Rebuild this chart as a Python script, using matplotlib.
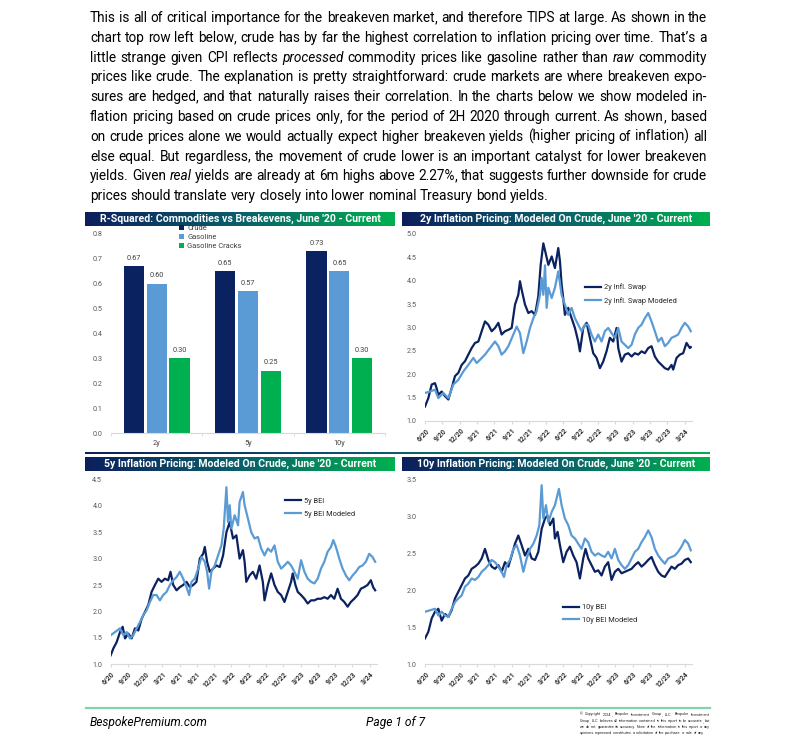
import numpy as np
import matplotlib
matplotlib.use('Agg')
import matplotlib.pyplot as plt
from matplotlib.colors import LinearSegmentedColormap
from matplotlib.ticker import FixedLocator

W, H = 812, 742
plt.rcParams['font.family'] = ['Roboto', 'DejaVu Sans']

NAVY = '#0b2260'
LIGHT = '#5b9bd5'
GREEN = '#00b050'
GRAD = LinearSegmentedColormap.from_list('bar', ['#0c1f5c', '#0a5f6a', '#00b050'])

# ---- text ----
PARA = [
    "This is all of critical importance for the breakeven market, and therefore TIPS at large. As shown in the",
    "chart top row left below, crude has by far the highest correlation to inflation pricing over time. That\u2019s a",
    "little strange given CPI reflects *processed* commodity prices like gasoline rather than *raw* commodity",
    "prices like crude. The explanation is pretty straightforward: crude markets are where breakeven expo-",
    "sures are hedged, and that naturally raises their correlation. In the charts below we show modeled in-",
    "flation pricing based on crude prices only, for the period of 2H 2020 through current. As shown, based",
    "on crude prices alone we would actually expect higher breakeven yields (higher pricing of inflation) all",
    "else equal. But regardless, the movement of crude lower is an important catalyst for lower breakeven",
    "yields. Given *real* yields are already at 6m highs above 2.27%, that suggests further downside for crude",
    "prices should translate very closely into lower nominal Treasury bond yields.",
]
COPYRIGHT = [
    "\u00a9 Copyright 2024, Bespoke Investment Group, LLC. Bespoke Investment",
    "Group, LLC believes all information contained in this report to be accurate, but",
    "we do not guarantee its accuracy. None of the information in this report or any",
    "opinions expressed constitutes a solicitation of the purchase or sale of any",
]

# ---- bar chart data (R-squared) ----
bar_cats = ['2y', '5y', '10y']
crude_r2 = [0.67, 0.65, 0.73]
gasoline_r2 = [0.60, 0.57, 0.65]
cracks_r2 = [0.30, 0.25, 0.30]

# ---- line charts: months since June 2020 ----
date_ticks = [0, 3, 6, 9, 12, 15, 18, 21, 24, 27, 30, 33, 36, 39, 42, 45]
date_labels = ['6/20', '9/20', '12/20', '3/21', '6/21', '9/21', '12/21', '3/22',
               '6/22', '9/22', '12/22', '3/23', '6/23', '9/23', '12/23', '3/24']

swap2_m = [0, 0.58, 1.16, 1.73, 2.02, 2.31, 2.89, 3.47, 4.05, 4.62, 5.2, 5.78, 6.36, 6.94, 7.51,
           8.09, 8.67, 9.25, 9.83, 10.4, 10.98, 11.56, 12.14, 12.72, 13.29, 13.87, 14.45, 15.03,
           15.61, 16.18, 16.47, 16.76, 17.34, 17.92, 18.5, 19.08, 19.65, 20.06, 20.52, 20.98,
           21.39, 21.97, 22.53, 23.11, 23.4, 23.69, 23.97, 24.26, 24.84, 25.42, 26.0, 26.57,
           26.86, 27.44, 28.02, 28.59, 29.17, 29.75, 30.33, 30.9, 31.48, 32.06, 32.64, 33.22,
           33.51, 34.08, 34.66, 35.24, 35.82, 36.39, 36.97, 37.55, 38.13, 38.71, 39.28, 39.86,
           40.44, 41.02, 41.59, 42.17, 42.75, 43.04, 43.62, 44.19, 44.77, 45.35, 45.93, 46.1]
swap2_v = [1.31, 1.49, 1.78, 1.81, 1.70, 1.56, 1.63, 1.53, 1.46, 1.70, 1.96, 2.03, 2.20, 2.28, 2.42,
           2.56, 2.67, 2.70, 2.92, 3.13, 3.06, 2.92, 2.99, 3.10, 2.85, 2.92, 2.95, 2.99,
           3.49, 3.70, 3.99, 3.81, 3.49, 3.31, 3.35, 3.27, 3.67, 4.34, 4.80, 4.56,
           4.34, 4.52, 4.27, 4.70, 4.42, 3.92, 3.63, 3.27, 3.42, 3.20, 2.99, 2.70,
           2.49, 2.99, 3.10, 2.78, 2.45, 2.35, 2.13, 2.27, 2.49, 2.78, 2.70, 2.99,
           2.56, 2.27, 2.42, 2.45, 2.38, 2.45, 2.42, 2.49, 2.45, 2.56, 2.60, 2.38,
           2.27, 2.20, 2.13, 2.10, 2.20, 2.10, 2.35, 2.42, 2.45, 2.67, 2.56, 2.58]

swap2_mod_m = [0, 0.87, 1.73, 2.31, 3.18, 4.05, 4.91, 5.78, 6.65, 7.51, 8.38, 8.96, 9.54, 10.4,
               11.27, 12.14, 12.72, 13.29, 13.87, 14.45, 15.32, 15.9, 16.47, 17.05, 17.63, 18.21,
               18.79, 19.36, 19.94, 20.23, 20.52, 20.81, 21.1, 21.39, 21.97, 22.53, 23.11, 23.69,
               24.26, 24.84, 25.42, 26.0, 26.57, 27.15, 27.73, 28.3, 28.88, 29.46, 30.04, 30.62,
               31.19, 31.77, 32.35, 32.93, 33.51, 34.08, 34.66, 35.24, 35.82, 36.39, 36.97, 37.55,
               38.13, 38.71, 39.28, 39.86, 40.44, 41.02, 41.59, 42.17, 42.75, 43.33, 43.9, 44.48,
               45.06, 45.64, 46.1]
swap2_mod_v = [1.60, 1.63, 1.67, 1.49, 1.60, 1.49, 1.78, 1.88, 2.06, 2.20, 2.35, 2.24, 2.31, 2.42,
               2.56, 2.70, 2.60, 2.42, 2.49, 2.60, 2.85, 3.02, 2.88, 2.45, 2.70, 2.99,
               3.20, 3.35, 3.70, 4.06, 3.70, 4.33, 3.42, 3.85, 3.63, 3.85, 4.20, 3.70,
               3.49, 3.27, 3.42, 3.20, 3.06, 2.92, 3.06, 3.06, 2.85, 2.70, 2.85, 2.70,
               2.92, 2.99, 2.88, 2.78, 2.99, 2.70, 2.63, 2.56, 2.63, 2.85, 2.99, 3.06,
               3.20, 3.31, 3.13, 2.92, 2.70, 2.78, 2.60, 2.67, 2.78, 2.81, 2.85, 2.99,
               3.10, 3.02, 2.92]

bei5_m = [0, 0.46, 1.04, 1.62, 2.08, 2.49, 3.06, 3.64, 4.22, 4.8, 5.38, 5.95, 6.53, 7.11, 7.69,
          8.27, 8.84, 9.42, 10.0, 10.4, 10.87, 11.45, 12.02, 12.6, 13.18, 13.76, 14.34, 14.91,
          15.49, 16.07, 16.36, 16.76, 17.23, 17.8, 18.38, 18.96, 19.54, 20.12, 20.69, 21.27,
          21.85, 22.41, 22.99, 23.28, 23.57, 24.14, 24.72, 25.3, 25.88, 26.45, 26.74, 27.32,
          27.9, 28.48, 29.05, 29.63, 30.21, 30.79, 31.36, 31.65, 32.12, 32.52, 33.1, 33.68,
          34.25, 34.83, 35.41, 35.99, 36.56, 37.14, 37.72, 38.3, 38.87, 39.45, 40.03, 40.61,
          41.19, 41.76, 42.34, 42.92, 43.5, 44.07, 44.65, 45.23, 45.63, 45.98]
bei5_v = [1.17, 1.30, 1.42, 1.61, 1.71, 1.49, 1.58, 1.49, 1.68, 1.64, 1.86, 1.99, 2.12, 2.37, 2.50,
          2.62, 2.56, 2.62, 2.59, 2.75, 2.50, 2.40, 2.46, 2.50, 2.56, 2.46, 2.50, 2.56,
          3.00, 3.09, 3.22, 2.94, 2.75, 2.81, 2.87, 2.84, 3.06, 3.50, 3.69, 3.38,
          3.44, 3.00, 3.16, 2.94, 2.56, 2.68, 2.75, 2.62, 2.87, 2.56, 2.21, 2.50,
          2.72, 2.50, 2.37, 2.31, 2.18, 2.37, 2.56, 2.72, 2.50, 2.37, 2.31, 2.24,
          2.15, 2.21, 2.21, 2.24, 2.24, 2.27, 2.24, 2.31, 2.24, 2.43, 2.24, 2.18,
          2.09, 2.18, 2.24, 2.31, 2.43, 2.46, 2.50, 2.59, 2.46, 2.40]

bei5_mod_m = [0, 0.75, 1.62, 2.2, 2.77, 3.35, 3.93, 4.51, 5.09, 5.66, 6.24, 6.82, 7.4, 7.98, 8.55,
              9.13, 9.71, 10.29, 10.87, 11.45, 12.02, 12.6, 13.18, 13.64, 14.05, 14.62, 15.2,
              15.78, 16.36, 16.76, 17.11, 17.51, 18.09, 18.67, 19.25, 19.65, 20.12, 20.4, 20.69,
              20.98, 21.56, 22.14, 22.41, 22.99, 23.28, 23.85, 24.43, 25.01, 25.59, 26.17, 26.74,
              27.32, 27.9, 28.48, 29.05, 29.63, 30.21, 30.79, 31.36, 31.94, 32.52, 33.1, 33.68,
              34.25, 34.83, 35.41, 35.99, 36.56, 37.14, 37.72, 38.3, 38.7, 39.16, 39.74, 40.32,
              40.9, 41.47, 42.05, 42.63, 43.21, 43.78, 44.36, 44.94, 45.52, 45.98]
bei5_mod_v = [1.55, 1.61, 1.68, 1.55, 1.61, 1.49, 1.55, 1.68, 1.80, 1.93, 2.02, 2.18, 2.31, 2.31, 2.21,
              2.31, 2.37, 2.50, 2.59, 2.65, 2.75, 2.62, 2.46, 2.31, 2.56, 2.62, 2.81,
              3.03, 2.94, 2.75, 2.43, 2.75, 2.87, 3.06, 3.25, 3.57, 4.35, 3.69, 4.01,
              3.57, 3.82, 3.63, 4.07, 4.26, 4.01, 3.76, 3.50, 3.38, 3.41, 3.19, 3.06,
              3.19, 3.13, 3.25, 2.94, 2.81, 2.87, 2.94, 2.87, 2.75, 2.62, 2.97, 2.75,
              2.62, 2.56, 2.53, 2.62, 2.81, 2.94, 3.13, 3.22, 3.35, 3.22, 3.00, 2.81,
              2.68, 2.59, 2.68, 2.75, 2.84, 2.87, 2.94, 3.09, 3.03, 2.94]

bei10_m = [0, 0.58, 1.16, 1.73, 2.31, 2.89, 3.47, 4.05, 4.62, 5.2, 5.78, 6.36, 6.94, 7.51, 8.09,
           8.67, 9.25, 9.83, 10.4, 10.98, 11.56, 12.14, 12.72, 13.29, 13.87, 14.45, 15.03, 15.61,
           16.18, 16.76, 17.34, 17.92, 18.5, 19.08, 19.65, 20.23, 20.81, 21.21, 21.68, 22.25,
           22.53, 22.99, 23.4, 23.97, 24.55, 25.13, 25.71, 26.28, 26.86, 27.44, 27.84, 28.3,
           28.88, 29.46, 30.04, 30.62, 31.19, 31.77, 32.35, 32.93, 33.51, 34.08, 34.66, 35.24,
           35.82, 36.39, 36.97, 37.55, 38.13, 38.71, 39.28, 39.86, 40.44, 41.02, 41.59, 42.17,
           42.75, 43.33, 43.9, 44.48, 45.06, 45.64, 46.1]
bei10_v = [1.35, 1.44, 1.62, 1.71, 1.75, 1.59, 1.68, 1.64, 1.73, 1.89, 1.98, 2.07, 2.16, 2.20, 2.29,
           2.32, 2.36, 2.43, 2.56, 2.41, 2.32, 2.29, 2.34, 2.25, 2.38, 2.32, 2.47, 2.63,
           2.74, 2.61, 2.47, 2.56, 2.43, 2.41, 2.52, 2.83, 2.97, 3.01, 2.88, 2.97,
           2.70, 2.79, 2.61, 2.38, 2.52, 2.59, 2.47, 2.38, 2.16, 2.43, 2.56, 2.43,
           2.34, 2.25, 2.27, 2.20, 2.32, 2.38, 2.14, 2.25, 2.29, 2.23, 2.25, 2.27,
           2.29, 2.34, 2.38, 2.32, 2.36, 2.41, 2.45, 2.34, 2.25, 2.20, 2.18, 2.25,
           2.32, 2.29, 2.34, 2.36, 2.41, 2.43, 2.38]

bei10_mod_m = [0, 0.87, 1.73, 2.31, 2.89, 3.47, 4.05, 4.62, 5.2, 5.78, 6.36, 6.94, 7.51, 8.09, 8.67,
               9.25, 9.83, 10.4, 10.98, 11.56, 12.14, 12.72, 13.29, 13.7, 14.16, 14.74, 15.32,
               15.9, 16.47, 17.05, 17.63, 18.21, 18.79, 19.36, 19.83, 20.23, 20.52, 20.98, 21.39,
               21.97, 22.53, 23.22, 23.69, 24.26, 24.84, 25.42, 26.0, 26.57, 27.15, 27.73, 28.3,
               28.88, 29.46, 30.04, 30.62, 31.19, 31.77, 32.35, 32.93, 33.51, 34.08, 34.66, 35.24,
               35.82, 36.39, 36.97, 37.55, 38.13, 38.71, 39.28, 39.86, 40.44, 41.02, 41.59, 42.17,
               42.75, 43.33, 43.9, 44.48, 45.06, 45.64, 46.1]
bei10_mod_v = [1.71, 1.73, 1.75, 1.66, 1.71, 1.66, 1.64, 1.75, 1.84, 1.89, 1.93, 2.05, 2.09, 2.16, 2.14,
               2.18, 2.25, 2.29, 2.34, 2.41, 2.38, 2.32, 2.25, 2.18, 2.34, 2.41, 2.56,
               2.61, 2.47, 2.25, 2.43, 2.56, 2.63, 2.74, 2.88, 3.42, 2.97, 3.15, 2.92,
               3.06, 3.15, 3.37, 3.15, 2.97, 2.88, 2.74, 2.70, 2.63, 2.56, 2.70, 2.65,
               2.52, 2.47, 2.50, 2.47, 2.45, 2.52, 2.43, 2.56, 2.41, 2.34, 2.29, 2.34,
               2.43, 2.52, 2.56, 2.65, 2.72, 2.81, 2.72, 2.56, 2.47, 2.41, 2.36, 2.43,
               2.45, 2.47, 2.52, 2.59, 2.68, 2.63, 2.54]

fig = plt.figure(figsize=(W / 100, H / 100), dpi=100)
renderer = fig.canvas.get_renderer()


def box(x0, y0, x1, y1):
    # pixel box (top-left origin) -> figure rect
    return [x0 / W, 1 - y1 / H, (x1 - x0) / W, (y1 - y0) / H]


def text_width(s, size, **kw):
    t = fig.text(0, 0, s, fontsize=size, **kw)
    w = t.get_window_extent(renderer).width
    t.remove()
    return w


def fit_size(s, width, **kw):
    return 10 * width / text_width(s, 10, **kw)


def justify(lines, x0, x1, base0, dy, size, color='black'):
    # draw word by word so every line but the last fills x0..x1
    space = text_width('a a', size) - text_width('aa', size)
    for i, line in enumerate(lines):
        words = []
        for wd in line.split():
            style = 'italic' if wd.startswith('*') else 'normal'
            wd = wd.strip('*')
            # trailing comma drawn as its own piece
            parts = [wd[:-1], ','] if wd.endswith(',') and len(wd) > 1 else [wd]
            widths = [text_width(p, size, fontstyle=style) for p in parts]
            words.append((parts, widths, style))
        total = sum(sum(w[1]) for w in words)
        if i < len(lines) - 1 and len(words) > 1:
            gap = (x1 - x0 - total) / (len(words) - 1)
        else:
            gap = space
        x = x0
        y = base0 + dy * i
        for parts, widths, style in words:
            for p, w in zip(parts, widths):
                fig.text(x / W, 1 - y / H, p, fontsize=size, fontstyle=style,
                         color=color, ha='left', va='baseline')
                x += w
            x += gap


def header(x0, y0, x1, y1, title, title_w):
    ax = fig.add_axes(box(x0, y0, x1, y1))
    ax.imshow(np.linspace(0, 1, 256)[None, :], aspect='auto', cmap=GRAD, extent=(0, 1, 0, 1))
    ax.set_axis_off()
    size = fit_size(title, title_w, fontweight='bold')
    ax.text(0.5, 0.48, title, color='white', fontsize=size, fontweight='bold',
            ha='center', va='center', transform=ax.transAxes)


def style_axes(ax):
    for s in ['top', 'right', 'left']:
        ax.spines[s].set_visible(False)
    ax.spines['bottom'].set_color('#d9d9d9')
    ax.spines['bottom'].set_linewidth(0.8)
    ax.tick_params(axis='y', length=0, pad=6, labelsize=5.2, labelcolor='#595959')


def line_chart(rect, m1, v1, m2, v2, ylim, yticks, names, leg_xy):
    ax = fig.add_axes(rect)
    ax.plot(m1, v1, color=NAVY, lw=1.6, label=names[0])
    ax.plot(m2, v2, color=LIGHT, lw=1.6, label=names[1])
    ax.set_xlim(0, 46.3)
    ax.set_ylim(*ylim)
    ax.set_yticks(yticks)
    ax.set_yticklabels(['%.1f' % t for t in yticks])
    ax.set_xticks(date_ticks)
    ax.set_xticklabels(date_labels, rotation=45, ha='right', rotation_mode='anchor')
    style_axes(ax)
    ax.tick_params(axis='x', length=2.5, color='#d9d9d9', pad=1.5, labelsize=5,
                   labelcolor='#333333')
    for lab in ax.get_xticklabels():
        lab.set_fontweight('bold')
    ax.legend(loc='upper left', bbox_to_anchor=leg_xy, frameon=False, fontsize=5.3,
              handlelength=2.2, handletextpad=0.35, labelspacing=0.75, borderpad=0,
              borderaxespad=0, labelcolor='#262626')
    return ax


# ---- paragraph ----
p_fits = sorted(fit_size(s.replace('*', ''), 614) for s in PARA[:-1])
p_size = p_fits[len(p_fits) // 2]
justify(PARA, 90, 707, 22, 19.8, p_size)

# ---- headers ----
header(85, 212, 395, 226, "R-Squared: Commodities vs Breakevens, June '20 - Current", 279)
header(402, 212, 710, 226, "2y Inflation Pricing: Modeled On Crude, June '20 - Current", 274)
header(85, 457, 395, 471, "5y Inflation Pricing: Modeled On Crude, June '20 - Current", 274)
header(402, 457, 710, 471, "10y Inflation Pricing: Modeled On Crude, June '20 - Current", 280)

# thin separator under the top row
sep = fig.add_axes(box(85, 451.8, 710, 454))
sep.imshow(np.linspace(0, 1, 256)[None, :], aspect='auto', cmap=GRAD)
sep.set_axis_off()

# ---- bar chart ----
ax1 = fig.add_axes(box(111, 234, 385, 433))
xb = np.arange(len(bar_cats))
bw = 0.22
for off, vals, col, name in [(-0.25, crude_r2, NAVY, 'Crude'),
                             (0, gasoline_r2, LIGHT, 'Gasoline'),
                             (0.25, cracks_r2, GREEN, 'Gasoline Cracks')]:
    bars = ax1.bar(xb + off, vals, bw, color=col, label=name)
    for b, v in zip(bars, vals):
        ax1.annotate('%.2f' % v, (b.get_x() + b.get_width() / 2, v), xytext=(0, 3.2),
                     textcoords='offset points', ha='center', va='bottom', fontsize=5.3,
                     color='#404040')
ax1.set_xlim(-0.5, 2.5)
ax1.set_ylim(0, 0.8)
ax1.set_yticks(np.arange(0, 0.81, 0.1))
ax1.set_yticklabels(['%.1f' % t for t in np.arange(0, 0.81, 0.1)])
ax1.set_xticks(xb)
ax1.set_xticklabels(bar_cats)
ax1.xaxis.set_minor_locator(FixedLocator([-0.5, 0.5, 1.5, 2.5]))
style_axes(ax1)
ax1.tick_params(axis='x', which='major', length=0, pad=5, labelsize=5.3, labelcolor='#404040')
ax1.tick_params(axis='x', which='minor', length=2.5, color='#d9d9d9')
ax1.legend(loc='upper left', bbox_to_anchor=(0.25, 1.045), frameon=False, fontsize=5.4,
           handlelength=0.6, handleheight=0.6, handletextpad=0.45, labelspacing=0.25,
           borderpad=0, borderaxespad=0, labelcolor='#404040')

# ---- line charts ----
line_chart(box(425, 234, 692, 421), swap2_m, swap2_v, swap2_mod_m, swap2_mod_v,
           (1.0, 5.0), np.arange(1.0, 5.01, 0.5), ['2y Infl. Swap', '2y Infl. Swap Modeled'],
           (0.6, 0.735))
line_chart(box(110.7, 479.3, 377, 664.3), bei5_m, bei5_v, bei5_mod_m, bei5_mod_v,
           (1.0, 4.5), np.arange(1.0, 4.51, 0.5), ['5y BEI', '5y BEI Modeled'],
           (0.655, 0.9))
line_chart(box(425, 479.3, 692, 664.3), bei10_m, bei10_v, bei10_mod_m, bei10_mod_v,
           (1.0, 3.5), np.arange(1.0, 3.51, 0.5), ['10y BEI', '10y BEI Modeled'],
           (0.517, 0.325))

# ---- footer ----
fig.add_artist(plt.Line2D([86 / W, 710 / W], [1 - 708 / H, 1 - 708 / H], color='#80d4aa', lw=1.6))
f_size = fit_size('BespokePremium.com', 117, fontstyle='italic')
fig.text(90 / W, 1 - 726 / H, 'BespokePremium.com', fontsize=f_size, fontstyle='italic', va='baseline')
fig.text(396 / W, 1 - 726 / H, 'Page 1 of 7', fontsize=f_size, fontstyle='italic',
         ha='center', va='baseline')
c_fits = sorted(fit_size(s, 128) for s in COPYRIGHT)
justify(COPYRIGHT, 580, 710, 715.5, 6.1, c_fits[1], color='#262626')

fig.savefig('out.png', dpi=100)
